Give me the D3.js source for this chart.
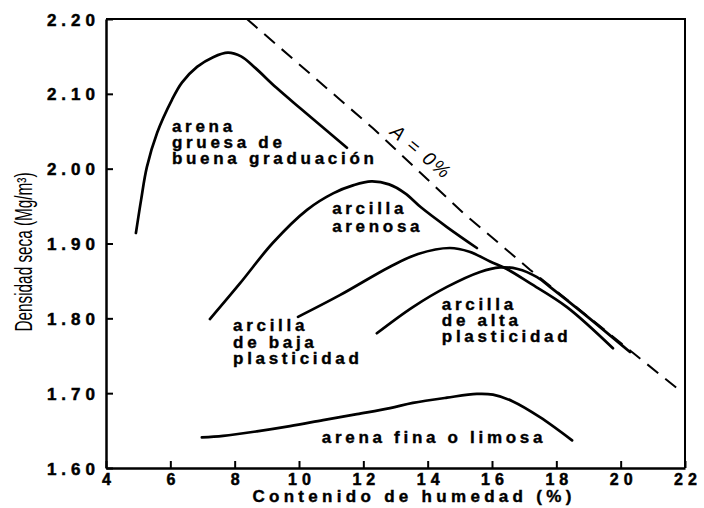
<!DOCTYPE html>
<html>
<head>
<meta charset="utf-8">
<script src="https://cdn.jsdelivr.net/npm/d3@7"></script>
<style>
  body { margin: 0; background: #fff; }
  svg text { font-family: "Liberation Sans", Arial, sans-serif; fill: #000; }
</style>
</head>
<body>
<div id="chart"></div>
<script>
// Compaction curves: moisture content (%) vs dry density (Mg/m3)
const arenaGruesa = [[4.93,1.914],[5.09,1.958],[5.27,2.002],[5.59,2.048],[6.05,2.092],[6.36,2.115],
  [6.83,2.136],[7.33,2.149],[7.79,2.155],[8.20,2.150],[8.63,2.135],[9.30,2.108],[10.03,2.081],[11.49,2.028]];
const arcillaArenosa = [[7.23,1.799],[8.17,1.847],[9.19,1.901],[10.25,1.945],[11.06,1.967],[11.70,1.978],
  [12.25,1.983],[12.80,1.979],[13.30,1.967],[13.80,1.948],[14.60,1.922],[15.53,1.894]];
const arcillaBaja = [[9.97,1.802],[11.27,1.831],[12.83,1.869],[13.70,1.886],[14.69,1.894],[15.30,1.889],
  [15.94,1.876],[16.46,1.866],[17.18,1.847],[18.33,1.815],[19.76,1.760]];
const arcillaAlta = [[12.42,1.780],[13.54,1.815],[14.60,1.842],[15.63,1.862],[16.25,1.868],[16.80,1.866],
  [17.40,1.855],[17.80,1.842],[18.83,1.807],[20.29,1.755]];
const arenaFina = [[6.98,1.641],[7.64,1.643],[8.69,1.649],[9.72,1.656],[10.75,1.664],[11.80,1.672],
  [12.83,1.680],[13.54,1.687],[14.60,1.694],[15.53,1.699],[16.03,1.698],[16.65,1.689],[17.49,1.668],[18.49,1.637]];
// zero air voids line (A = 0%)
const airZero = [[8.38,2.200],[12.30,2.054],[15.10,1.941],[17.18,1.865],[20.38,1.754],[21.94,1.700]];

const xTicks = [4, 6, 8, 10, 12, 14, 16, 18, 20, 22];
const yTicks = [1.60, 1.70, 1.80, 1.90, 2.00, 2.10, 2.20];

const curveNames = [
  ["arena", "gruesa de", "buena graduación"],
  ["arcilla", "arenosa"],
  ["arcilla", "de baja", "plasticidad"],
  ["arcilla", "de alta", "plasticidad"],
  ["arena fina o limosa"]
];
const airLabel = "A = 0%";
const xTitle = "Contenido de humedad (%)";
const yTitle = "Densidad seca (Mg/m³)";

// Setup
const width = 704;
const height = 508;

const svg = d3.select("#chart")
  .append("svg")
  .attr("width", width)
  .attr("height", height);

const x = d3.scaleLinear().domain([4, 22]).range([106, 685]);
const y = d3.scaleLinear().domain([1.60, 2.20]).range([468, 19]);

// frame top / right
svg.append("path")
  .attr("d", `M${x(4)},${y(2.2)}H${x(22)}V${y(1.6)}`)
  .attr("fill", "none")
  .attr("stroke", "#000")
  .attr("stroke-width", 2);

const xAxis = svg.append("g")
  .attr("transform", `translate(0,${y(1.6)})`)
  .call(d3.axisBottom(x).tickValues(xTicks).tickSizeInner(-7).tickSizeOuter(0).tickPadding(6));

const yAxis = svg.append("g")
  .attr("transform", `translate(${x(4)},0)`)
  .call(d3.axisLeft(y).tickValues(yTicks).tickFormat(d3.format(".2f"))
    .tickSizeInner(-7).tickSizeOuter(0).tickPadding(6));

[xAxis, yAxis].forEach(g => {
  g.select(".domain").attr("stroke-width", 2.5);
  g.selectAll(".tick line").attr("stroke-width", 2);
  g.selectAll("text")
    .attr("font-family", "'Liberation Sans', Arial, sans-serif")
    .attr("font-weight", "bold")
    .attr("fill", "#000")
    .attr("stroke", "#000")
    .attr("stroke-width", 0.5);
});
xAxis.selectAll("text").attr("font-size", 16).attr("letter-spacing", 5).attr("dx", 2.5);
yAxis.selectAll("text").attr("font-size", 17).attr("letter-spacing", 5).attr("dy", "0.36em");

// curves
const line = d3.line()
  .x(d => x(d[0]))
  .y(d => y(d[1]))
  .curve(d3.curveCatmullRom.alpha(0.5));

svg.append("g")
  .selectAll("path")
  .data([arenaGruesa, arcillaArenosa, arcillaBaja, arcillaAlta, arenaFina])
  .join("path")
  .attr("d", line)
  .attr("fill", "none")
  .attr("stroke", "#000")
  .attr("stroke-width", 2.7)
  .attr("stroke-linecap", "round");

svg.append("path")
  .attr("d", d3.line().x(d => x(d[0])).y(d => y(d[1]))(airZero))
  .attr("fill", "none")
  .attr("stroke", "#000")
  .attr("stroke-width", 2)
  .attr("stroke-dasharray", "14,9");

// curve labels (anchor: moisture %, density of first baseline, line step px)
const labelAt = [[6.05, 2.049, 16], [11.03, 1.939, 18], [7.95, 1.783, 16.5], [14.44, 1.811, 16], [10.71, 1.633, 0]];

curveNames.forEach((lines, i) => {
  const [lx, ly, step] = labelAt[i];
  const t = svg.append("text")
    .attr("font-size", 17)
    .attr("font-weight", "bold")
    .attr("stroke", "#000")
    .attr("stroke-width", 0.4)
    .attr("letter-spacing", 3.7);
  lines.forEach((s, j) => {
    t.append("tspan")
      .attr("x", x(lx))
      .attr("y", y(ly) + j * step)
      .text(s);
  });
});

svg.append("text")
  .attr("transform", `translate(417,157) rotate(40)`)
  .attr("text-anchor", "middle")
  .attr("font-size", 19)
  .attr("font-style", "italic")
  .attr("letter-spacing", 2)
  .text(airLabel);

// axis titles
svg.append("text")
  .attr("x", 412)
  .attr("y", 502)
  .attr("dx", 2)
  .attr("text-anchor", "middle")
  .attr("font-size", 17)
  .attr("font-weight", "bold")
  .attr("stroke", "#000")
  .attr("stroke-width", 0.4)
  .attr("letter-spacing", 4.3)
  .text(xTitle);

svg.append("text")
  .attr("transform", "translate(32,252) rotate(-90)")
  .attr("text-anchor", "middle")
  .attr("font-size", 23)
  .attr("textLength", 159)
  .attr("lengthAdjust", "spacingAndGlyphs")
  .text(yTitle);
</script>
</body>
</html>
